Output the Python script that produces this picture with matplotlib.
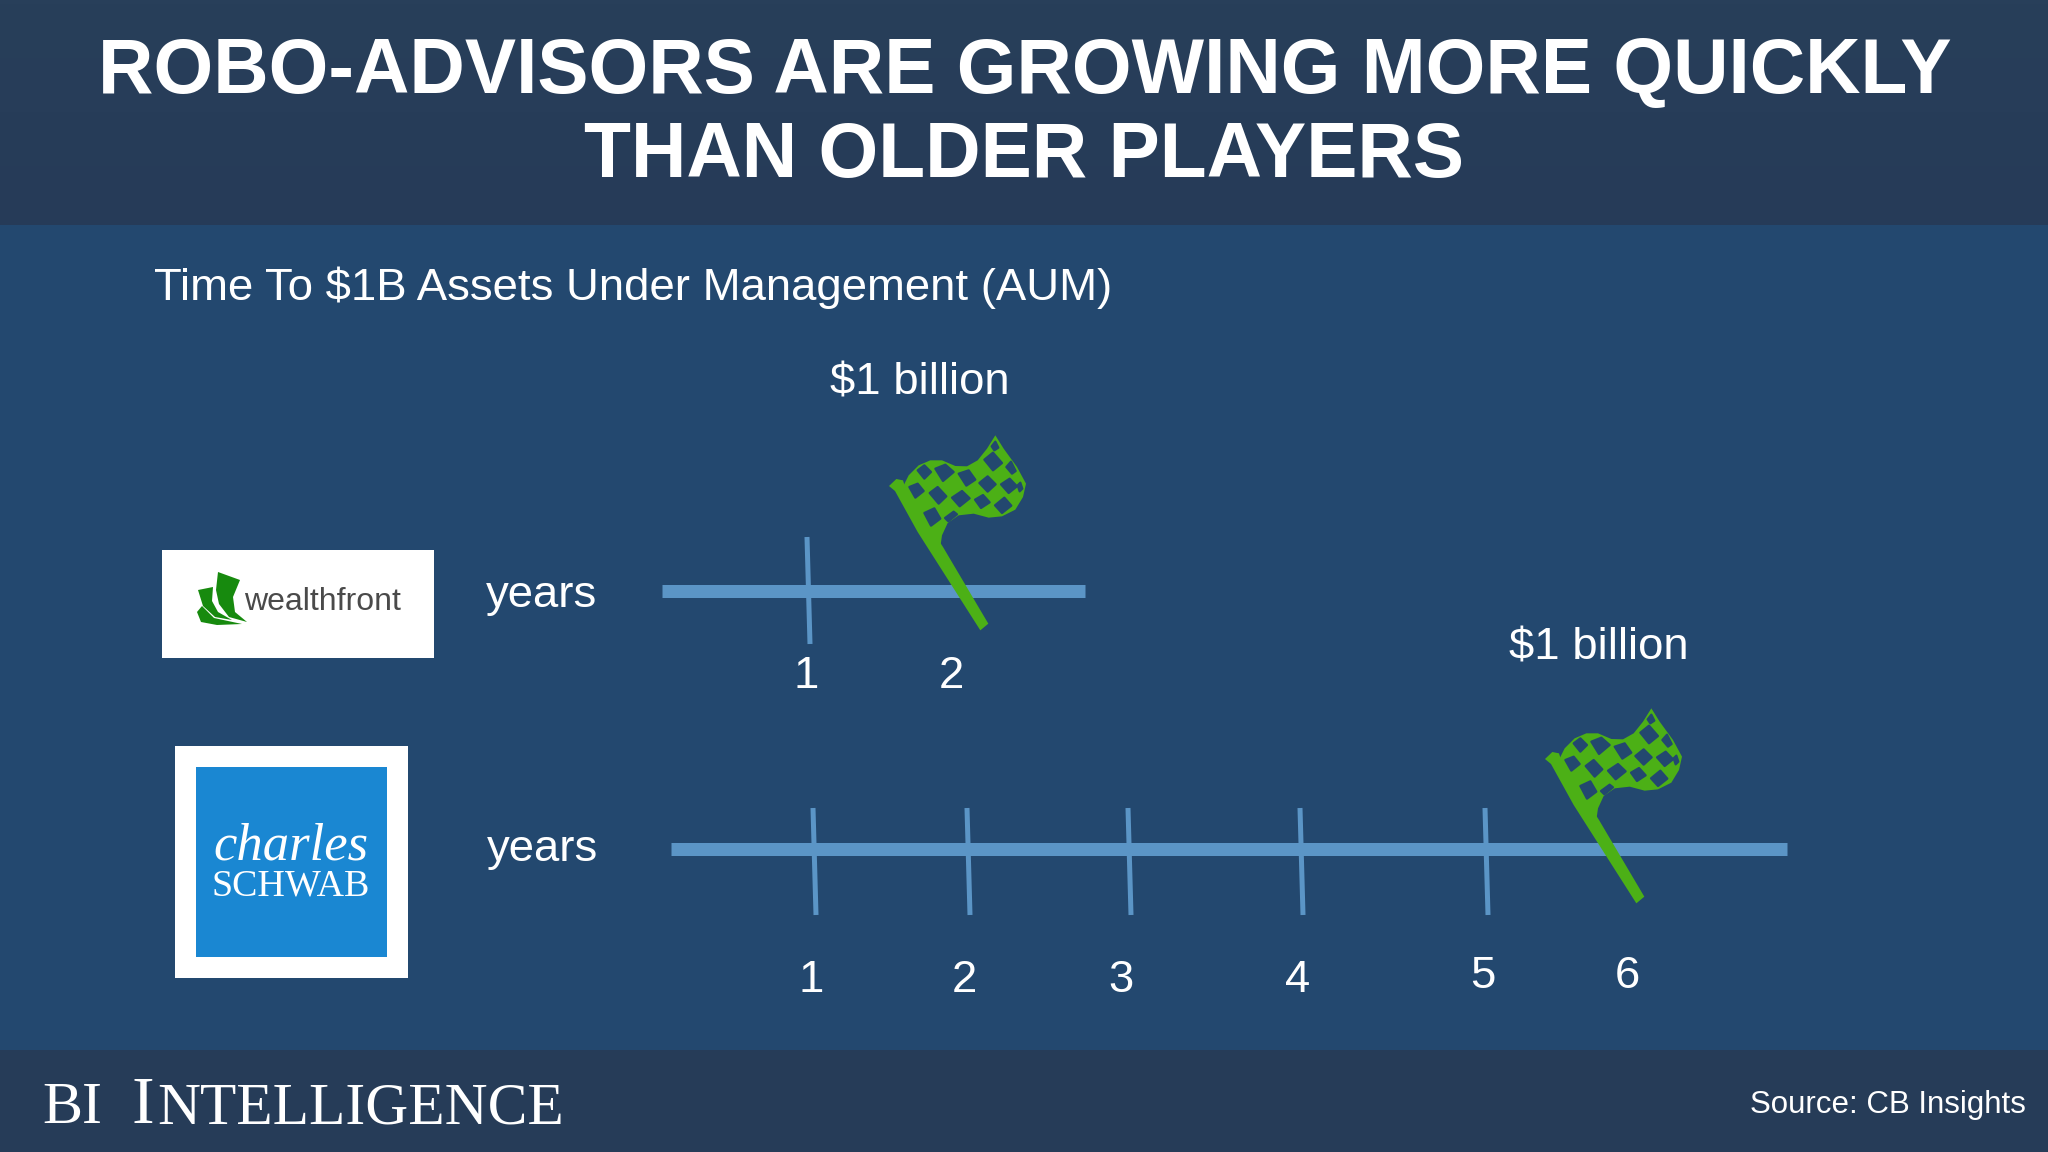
import matplotlib
matplotlib.use('Agg')
import matplotlib.pyplot as plt
from matplotlib.patches import Rectangle, Polygon
import numpy as np

plt.rcParams['font.family'] = ['Liberation Sans', 'DejaVu Sans']

# Chart content
title_lines = ['ROBO-ADVISORS ARE GROWING MORE QUICKLY', 'THAN OLDER PLAYERS']
subtitle = 'Time To $1B Assets Under Management (AUM)'
goal_label = '$1 billion'
unit_label = 'years'
source = 'Source: CB Insights'
wealthfront_years = ['1', '2']
schwab_years = ['1', '2', '3', '4', '5', '6']

# Layout in pixels (the timelines are not evenly spaced in the original)
wealthfront_tick_x = [807]
wealthfront_label_x = [806, 951]
schwab_tick_x = [813, 967, 1128, 1300, 1485]
schwab_label_x = [811, 964, 1121, 1298, 1483, 1627]
schwab_label_y = [980, 980, 980, 980, 977, 977]

BG = '#23486f'
BAND = '#263c58'
LINE = '#5b95c6'
GREEN = '#4cb016'
WHITE = '#ffffff'


def pt(px):
    return px * 72 / 100


fig = plt.figure(figsize=(20.48, 11.52), dpi=100, facecolor=BG)
ax = fig.add_axes([0, 0, 1, 1])
ax.set_xlim(0, 2048)
ax.set_ylim(1152, 0)
ax.axis('off')

# Bands
ax.imshow(np.linspace(0, 1, 50).reshape(-1, 1), extent=(0, 2048, 225, 0), aspect='auto',
          cmap=matplotlib.colors.LinearSegmentedColormap.from_list('h', ['#283f5a', '#263b58']), zorder=1)
ax.set_xlim(0, 2048)
ax.set_ylim(1152, 0)
ax.add_patch(Rectangle((0, 1050), 2048, 102, color=BAND, lw=0, zorder=1))

# Title
ax.text(1025, 73, title_lines[0], color=WHITE, fontsize=pt(76.7), fontweight='bold', ha='center', va='center', zorder=5)
ax.text(1024, 157, title_lines[1], color=WHITE, fontsize=pt(76.7), fontweight='bold', ha='center', va='center', zorder=5)
ax.text(154, 288, subtitle, color=WHITE, fontsize=pt(45.5), ha='left', va='center', zorder=5)


def flag(x0, y0):
    # outline, zoom coordinates (1/3 px), origin at pole foot
    def to_px(pts):
        p = np.array(pts, dtype=float)
        return np.c_[x0 + (p[:, 0] - 368) / 3, y0 + (p[:, 1] - 620) / 3]

    cloth = [(125, 205), (145, 165), (175, 135), (210, 120), (245, 120), (285, 137), (320, 138), (352, 120),
             (380, 85), (405, 45), (430, 85), (470, 140), (497, 190), (488, 230), (465, 268), (425, 288),
             (385, 292), (340, 280), (295, 285), (262, 308), (245, 345), (240, 380), (200, 330), (150, 250)]
    pole = [(86, 197), (108, 176), (128, 180), (136, 205), (248, 380), (384, 610), (360, 630), (172, 335), (104, 212)]
    ax.add_patch(Polygon(to_px(cloth), closed=True, fc=GREEN, ec='none', zorder=6))
    ax.add_patch(Polygon(to_px(pole), closed=True, fc=GREEN, ec='none', zorder=7))

    # dark squares of the checker pattern
    cells = [
        [(172, 150), (192, 135), (212, 155), (192, 175)],
        [(225, 145), (255, 133), (280, 155), (248, 182)],
        [(295, 160), (325, 150), (345, 178), (318, 196)],
        [(372, 118), (398, 97), (425, 128), (398, 150)],
        [(147, 200), (172, 190), (190, 212), (165, 232)],
        [(208, 218), (232, 200), (258, 228), (235, 250)],
        [(275, 232), (305, 212), (328, 234), (298, 258)],
        [(357, 188), (382, 168), (406, 192), (382, 214)],
        [(422, 192), (448, 175), (470, 198), (445, 218)],
        [(192, 278), (222, 264), (240, 295), (212, 316)],
        [(344, 238), (368, 224), (388, 246), (362, 263)],
        [(404, 255), (432, 232), (453, 256), (425, 278)],
        [(254, 293), (280, 274), (290, 282), (264, 303)],
        [(438, 140), (452, 124), (466, 152), (455, 160)],
        [(394, 78), (405, 64), (414, 82), (402, 90)],
        [(472, 195), (480, 187), (486, 205), (478, 213)],
    ]
    for c in cells:
        ax.add_patch(Polygon(to_px(c), closed=True, fc=BG, ec=BG, lw=1.6, joinstyle='round', zorder=8))


def tick(x, y0, y1):
    ax.plot([x, x + 3], [y0, y1], color=LINE, lw=pt(5), solid_capstyle='butt', zorder=3)


# Wealthfront timeline
ax.plot([662, 1085], [590.5, 590.5], color=LINE, lw=pt(13), solid_capstyle='butt', zorder=3)
for x in wealthfront_tick_x:
    tick(x, 537, 644)
for lab, x in zip(wealthfront_years, wealthfront_label_x):
    ax.text(x, 676, lab, color=WHITE, fontsize=pt(45.5), ha='center', va='center', zorder=5)
ax.text(486, 595, unit_label, color=WHITE, fontsize=pt(45.5), ha='left', va='center', zorder=5)
ax.text(920, 383, goal_label, color=WHITE, fontsize=pt(45.5), ha='center', va='center', zorder=5)
flag(983, 627)

# Schwab timeline
ax.plot([671, 1787], [848.5, 848.5], color=LINE, lw=pt(13), solid_capstyle='butt', zorder=3)
for x in schwab_tick_x:
    tick(x, 808, 915)
for lab, x, y in zip(schwab_years, schwab_label_x, schwab_label_y):
    ax.text(x, y, lab, color=WHITE, fontsize=pt(45.5), ha='center', va='center', zorder=5)
ax.text(487, 850, unit_label, color=WHITE, fontsize=pt(45.5), ha='left', va='center', zorder=5)
ax.text(1599, 648, goal_label, color=WHITE, fontsize=pt(45.5), ha='center', va='center', zorder=5)
flag(1639, 900)

# Wealthfront logo
ax.add_patch(Rectangle((162, 550), 272, 108, color=WHITE, lw=0, zorder=2))
LEAF = '#178a0e'
leaf_a = [(218, 572), (240, 580), (233, 597), (235, 612), (247, 622), (229, 617), (219, 604), (216, 590)]
leaf_b = [(198, 590), (213, 587), (212, 601), (218, 612), (232, 620), (215, 617), (203, 606)]
leaf_c = [(197, 612), (202, 606), (214, 618), (242, 624), (217, 625), (201, 622)]
for leaf in (leaf_a, leaf_b, leaf_c):
    ax.add_patch(Polygon(leaf, closed=True, fc=LEAF, ec='none', zorder=3))
ax.text(244, 602, 'wealthfront', color='#4a4a4a', fontsize=pt(32), ha='left', va='center', zorder=3)

# Schwab logo
ax.add_patch(Rectangle((175, 746), 233, 232, color=WHITE, lw=0, zorder=2))
ax.add_patch(Rectangle((196, 767), 191, 190, color='#1a87d2', lw=0, zorder=3))
ax.text(291, 846, 'charles', color=WHITE, family='Liberation Serif', style='italic', fontsize=pt(52.6),
        ha='center', va='center', zorder=4)
ax.text(291, 886, 'SCHWAB', color=WHITE, family='Liberation Serif', fontsize=pt(38),
        ha='center', va='center', zorder=4)

# Footer
serif = dict(color=WHITE, family='Liberation Serif', va='baseline', ha='left', zorder=5)
ax.text(42, 1123, 'BI', fontsize=pt(60), **serif)
ax.text(131, 1123, 'I', fontsize=pt(68), **serif)
ax.text(157, 1123, 'NTELLIGENCE', fontsize=pt(59.5), **serif)
ax.text(2026, 1105, source, color=WHITE, fontsize=pt(31.3), ha='right', va='center', zorder=5)

fig.savefig('out.png', dpi=100, facecolor=BG)
